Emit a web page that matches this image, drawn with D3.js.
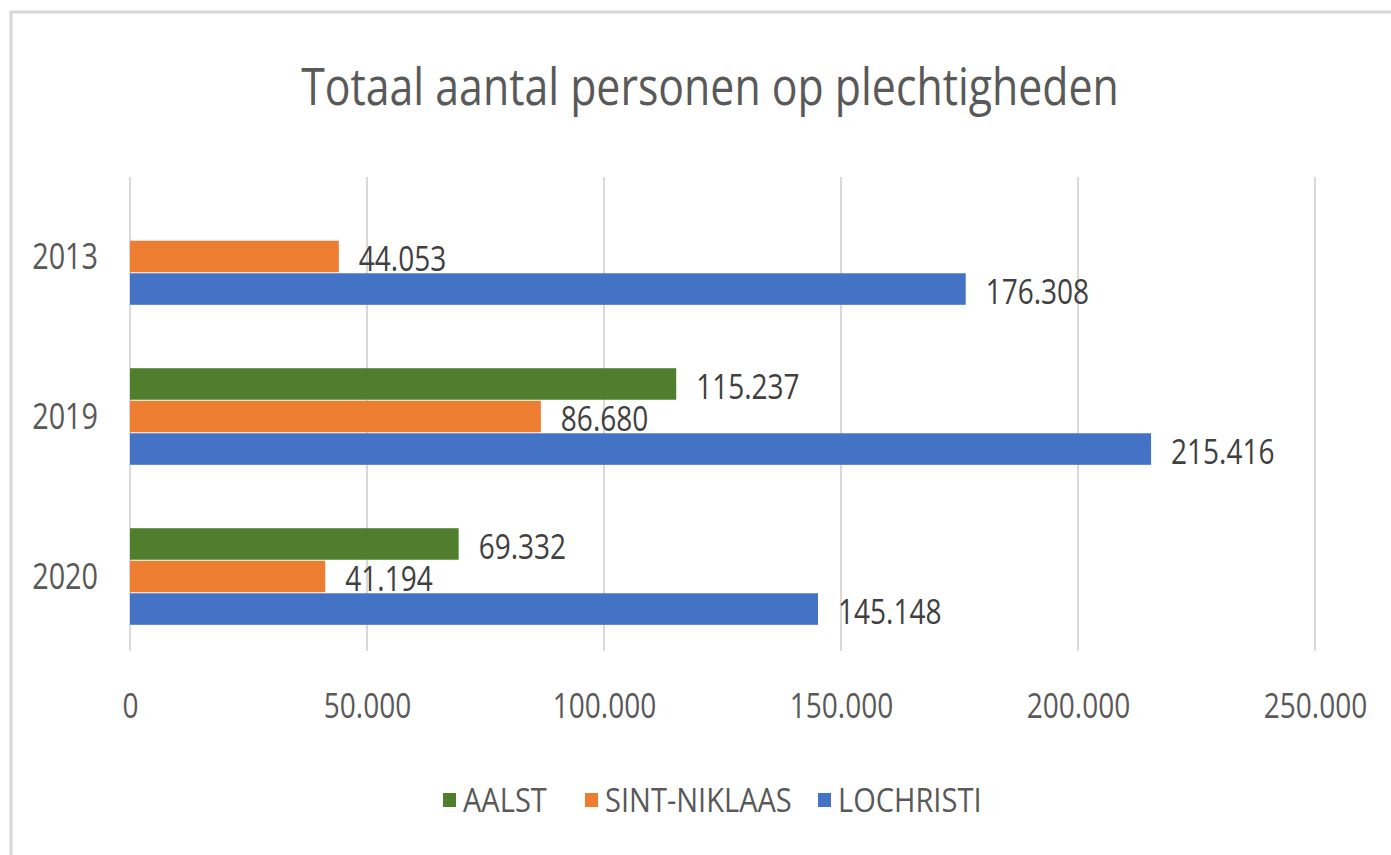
<!DOCTYPE html>
<html>
<head>
<meta charset="utf-8">
<script src="https://cdn.jsdelivr.net/npm/d3@7"></script>
<style>
  body { margin: 0; background: #fff; }
  text { font-family: "Open Sans", "Noto Sans", sans-serif; fill: #595959; }
</style>
</head>
<body>
<div id="chart"></div>
<script>
// data
var years = ["2013", "2019", "2020"];
var series = ["AALST", "SINT-NIKLAAS", "LOCHRISTI"];
var colors = ["#4f7f2d", "#ed7d31", "#4472c4"];
var aalst = [null, 115237, 69332];
var sintNiklaas = [44053, 86680, 41194];
var lochristi = [176308, 215416, 145148];
var xTicks = [0, 50000, 100000, 150000, 200000, 250000];

var values = [aalst, sintNiklaas, lochristi];

var W = 1391, H = 855;
var margin = {top: 177, left: 130, right: 76, bottom: 198};
var width = W - margin.left - margin.right,
    height = H - margin.top - margin.bottom;

// the original font is narrow, so text is squeezed sideways
var squeeze = "scale(0.8,1)";

var svg = d3.select("#chart")
  .append("svg")
    .attr("width", W)
    .attr("height", H);

// chart frame
svg.append("rect")
  .attr("x", 11).attr("y", 12)
  .attr("width", W + 20).attr("height", H + 20)
  .attr("fill", "none")
  .attr("stroke", "#d6d6d6")
  .attr("stroke-width", 3);

svg.append("g")
  .attr("transform", "translate(710,105)")
  .append("text")
    .attr("text-anchor", "middle")
    .attr("transform", "scale(0.84,1)")
    .style("font-size", "51px")
    .text("Totaal aantal personen op plechtigheden");

var g = svg.append("g")
  .attr("transform", "translate(" + margin.left + "," + margin.top + ")");

var x = d3.scaleLinear()
  .domain([0, 250000])
  .range([0, width]);

var y = d3.scaleBand()
  .domain(years)
  .range([0, height])
  .paddingInner(0.39)
  .paddingOuter(0.195);

var ySub = d3.scaleBand()
  .domain(series)
  .range([0, y.bandwidth()]);

// grid lines
g.selectAll(".grid")
  .data(xTicks)
  .enter()
  .append("line")
    .attr("x1", function(d) { return x(d); })
    .attr("x2", function(d) { return x(d); })
    .attr("y1", 0)
    .attr("y2", height - 6)
    .attr("stroke", "#d9d9d9")
    .attr("stroke-width", 2);

// x axis labels
var fmt = function(d) { return d3.format(",")(d).replace(/,/g, "."); };
var xAxis = g.append("g")
  .attr("transform", "translate(0," + (718 - margin.top) + ")")
  .call(d3.axisBottom(x).tickValues(xTicks).tickFormat(fmt).tickSize(0));
xAxis.select(".domain").remove();
xAxis.selectAll("text")
  .attr("y", 0)
  .attr("dy", 0)
  .attr("transform", squeeze)
  .style("font-size", "35px")
  .style("fill", "#595959")
  .style("font-family", "'Open Sans', sans-serif");

// y axis labels
var yAxis = g.append("g")
  .attr("transform", "translate(-32,0)")
  .call(d3.axisLeft(y).tickSize(0));
yAxis.select(".domain").remove();
yAxis.selectAll("text")
  .attr("x", 0)
  .attr("transform", squeeze)
  .style("font-size", "36px")
  .style("fill", "#595959")
  .style("font-family", "'Open Sans', sans-serif");

// bars
var rows = [];
years.forEach(function(yr, i) {
  series.forEach(function(s, j) {
    if (values[j][i] != null) rows.push({year: yr, series: s, value: values[j][i], color: colors[j]});
  });
});

g.selectAll(".bar")
  .data(rows)
  .enter()
  .append("rect")
    .attr("x", 0)
    .attr("y", function(d) { return y(d.year) + ySub(d.series); })
    .attr("width", function(d) { return x(d.value); })
    .attr("height", ySub.bandwidth() - 1)
    .attr("fill", function(d) { return d.color; });

g.selectAll(".lbl")
  .data(rows)
  .enter()
  .append("g")
    .attr("transform", function(d) {
      return "translate(" + (x(d.value) + 20) + "," + (y(d.year) + ySub(d.series) + ySub.bandwidth() / 2 + 2) + ")";
    })
  .append("text")
    .attr("dy", "0.35em")
    .attr("transform", squeeze)
    .style("font-size", "35px")
    .style("fill", "#404040")
    .text(function(d) { return fmt(d.value); });

// legend
var legendX = [443, 585, 818];
var legend = svg.selectAll(".legend")
  .data(series)
  .enter()
  .append("g")
    .attr("transform", function(d, i) { return "translate(" + legendX[i] + ",800)"; });

legend.append("rect")
  .attr("x", 0).attr("y", -7)
  .attr("width", 13).attr("height", 14)
  .attr("fill", function(d, i) { return colors[i]; });

legend.append("g")
  .attr("transform", "translate(20,0)")
  .append("text")
    .attr("dy", "0.35em")
    .attr("transform", "scale(0.88,1)")
    .style("font-size", "33px")
    .text(function(d) { return d; });
</script>
</body>
</html>
